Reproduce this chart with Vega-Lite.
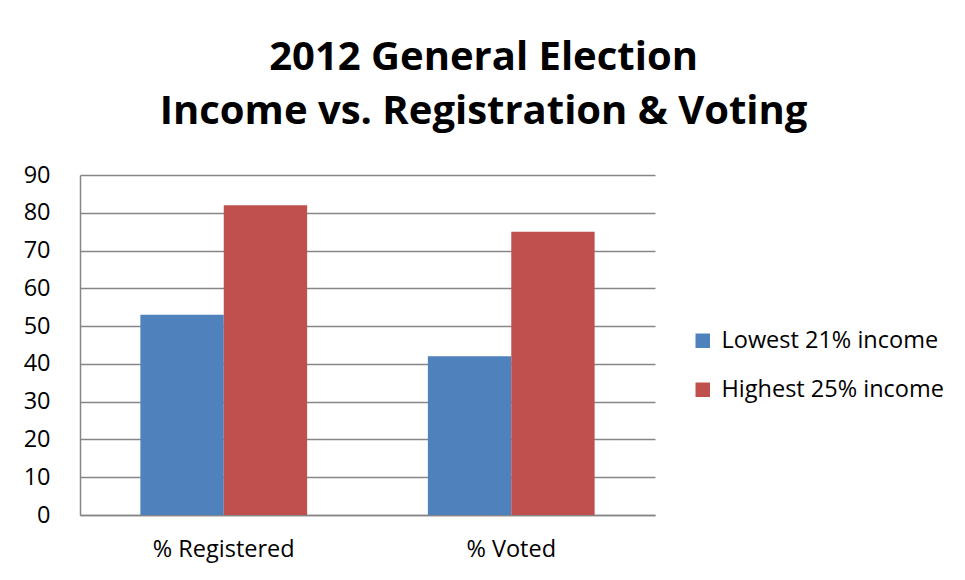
{
  "$schema": "https://vega.github.io/schema/vega-lite/v6.json",
  "autosize": {"type": "none"},
  "width": 575,
  "height": 340,
  "padding": {"left": 80, "top": 175, "right": 310, "bottom": 65},
  "background": "white",
  "title": {
    "text": ["2012 General Election", "Income vs. Registration & Voting"],
    "font": "Open Sans",
    "fontSize": 40,
    "fontWeight": "bold",
    "color": "black",
    "anchor": "middle",
    "frame": "bounds",
    "lineHeight": 54,
    "offset": 31
  },
  "data": {
    "values": [
      {"measure": "% Registered", "group": "Lowest 21% income", "value": 53},
      {"measure": "% Registered", "group": "Highest 25% income", "value": 82},
      {"measure": "% Voted", "group": "Lowest 21% income", "value": 42},
      {"measure": "% Voted", "group": "Highest 25% income", "value": 75}
    ]
  },
  "mark": {"type": "bar"},
  "encoding": {
    "x": {
      "field": "measure",
      "type": "nominal",
      "sort": ["% Registered", "% Voted"],
      "scale": {"paddingInner": 0.42, "paddingOuter": 0.21},
      "axis": {
        "title": null,
        "labelAngle": 0,
        "labelFont": "Open Sans",
        "labelFontSize": 23.5,
        "labelColor": "black",
        "labelPadding": 22,
        "ticks": false,
        "domainColor": "#868686",
        "domainWidth": 1.5
      }
    },
    "xOffset": {
      "field": "group",
      "type": "nominal",
      "sort": ["Lowest 21% income", "Highest 25% income"],
      "scale": {"paddingInner": 0, "paddingOuter": 0}
    },
    "y": {
      "field": "value",
      "type": "quantitative",
      "scale": {"domain": [0, 90], "nice": false},
      "axis": {
        "title": null,
        "values": [0, 10, 20, 30, 40, 50, 60, 70, 80, 90],
        "labelFont": "Open Sans",
        "labelFontSize": 23.5,
        "labelColor": "black",
        "labelPadding": 30,
        "ticks": false,
        "grid": true,
        "gridColor": "#868686",
        "gridWidth": 1.5,
        "domainColor": "#868686",
        "domainWidth": 1.5
      }
    },
    "color": {
      "field": "group",
      "type": "nominal",
      "sort": ["Lowest 21% income", "Highest 25% income"],
      "scale": {"domain": ["Lowest 21% income", "Highest 25% income"], "range": ["#4F81BD", "#C0504D"]},
      "legend": {
        "title": null,
        "orient": "none",
        "legendX": 611,
        "legendY": 154,
        "symbolType": "square",
        "symbolSize": 210,
        "symbolStrokeWidth": 0,
        "labelFont": "Open Sans",
        "labelFontSize": 23.5,
        "labelColor": "black",
        "labelLimit": 0,
        "rowPadding": 24,
        "labelOffset": 7
      }
    }
  },
  "config": {"view": {"stroke": null}}
}
